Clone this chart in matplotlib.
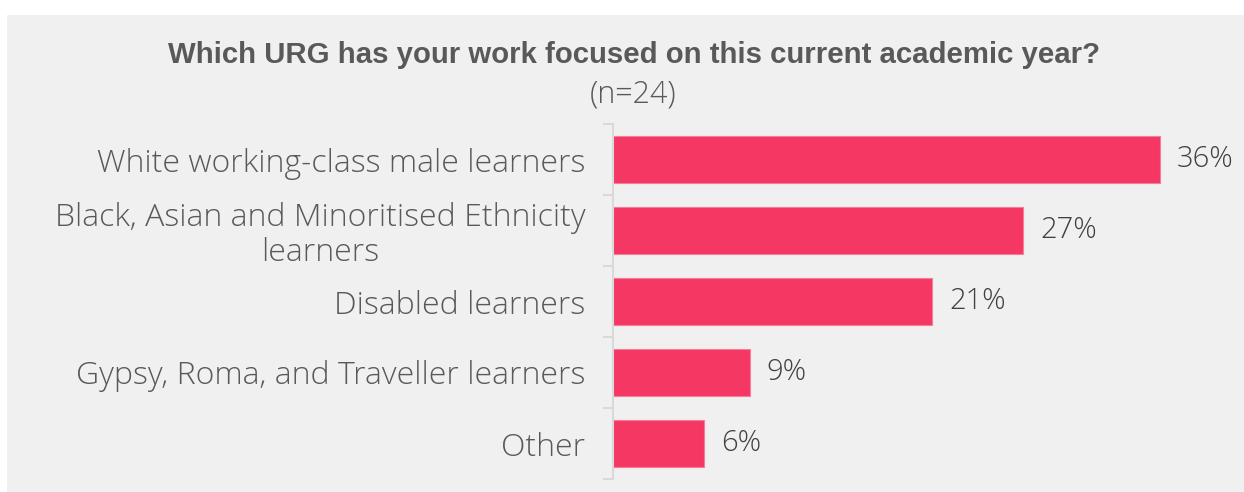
import matplotlib.pyplot as plt
from matplotlib.patches import Rectangle

categories = [
    "White working-class male learners",
    "Black, Asian and Minoritised Ethnicity\nlearners",
    "Disabled learners",
    "Gypsy, Roma, and Traveller learners",
    "Other",
]
values = [36, 27, 21, 9, 6]

BAR_COLOR = "#F53763"
TEXT_COLOR = "#595959"
BG = "#F0F0F0"
FONT = ["Open Sans", "DejaVu Sans"]

plt.rcParams["font.family"] = FONT

fig = plt.figure(figsize=(12.44, 4.92), dpi=100)
fig.patch.set_facecolor("white")
fig.patches.append(Rectangle((7 / 1244, 0), 1, 1 - 15 / 492, transform=fig.transFigure,
                             facecolor=BG, edgecolor="none", zorder=-10))

ax = fig.add_axes([613 / 1244, 13 / 492, 611 / 1244, 355 / 492])
ax.set_facecolor("none")

pos = list(range(len(categories)))
ax.barh(pos, values, height=0.66, color=BAR_COLOR, edgecolor="#F77C98", linewidth=0.8)
ax.set_ylim(len(categories) - 0.5, -0.5)
ax.set_xlim(0, 40.2)

# etiquetas de valor a la derecha de cada barra
for p, v in zip(pos, values):
    ax.text(v + 1.1, p, f"{v}%", va="center", ha="left", fontsize=21,
            color="#404040", fontweight="light")

ax.set_yticks(pos)
ax.set_yticklabels(categories, fontsize=23, color=TEXT_COLOR, fontweight="light",
                   multialignment="center", linespacing=1.1)
ax.tick_params(axis="y", which="major", length=0, pad=20)
ax.set_yticks([p - 0.5 for p in pos] + [len(pos) - 0.5], minor=True)
ax.tick_params(axis="y", which="minor", length=7.5, width=1.5, color="#D9D9D9")
ax.set_xticks([])

for s in ["top", "right", "bottom"]:
    ax.spines[s].set_visible(False)
ax.spines["left"].set_color("#D9D9D9")
ax.spines["left"].set_linewidth(1.5)

fig.text(634 / 1244, 1 - 55 / 492, "Which URG has your work focused on this current academic year?",
         ha="center", va="center", fontsize=21.2, fontweight="bold", color=TEXT_COLOR,
         family=["Liberation Sans", "DejaVu Sans"])
fig.text(633 / 1244, 1 - 95 / 492, "(n=24)", ha="center", va="center", fontsize=22,
         color=TEXT_COLOR, fontweight="light")

fig.savefig("out.png", dpi=100, facecolor=fig.get_facecolor())
